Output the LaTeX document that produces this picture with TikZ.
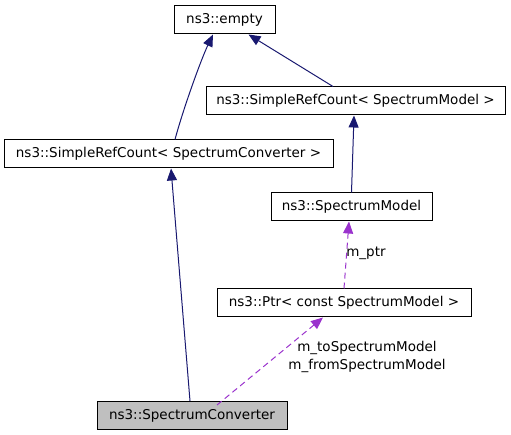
\documentclass[tikz,border=0pt]{standalone}
\usepackage{fontspec}
\setmainfont{DejaVu Sans}
\usetikzlibrary{arrows.meta}
\definecolor{edgeblue}{HTML}{191970}
\definecolor{edgepurple}{HTML}{9A32CD}
\definecolor{boxgray}{HTML}{BFBFBF}
\tikzset{
  cls/.style={draw=black, line width=1pt, minimum height=28pt, inner sep=0pt, font=\fontsize{13.5}{16}\selectfont},
  inherit/.style={draw=edgeblue, line width=1pt, -{Triangle[length=12pt,width=10pt]}},
  usage/.style={draw=edgepurple, line width=1pt, dash pattern=on 6pt off 4pt, -{Triangle[length=12pt,width=10pt]}},
  lbl/.style={font=\fontsize{13.5}{16}\selectfont, inner sep=0pt}
}
\begin{document}
\begin{tikzpicture}[x=1pt,y=-1pt]
\useasboundingbox (0,0) rectangle (511,435);
\node[cls, minimum width=101pt] (empty) at (224.5,20) {ns3::empty};
\node[cls, minimum width=299pt] (srcsm) at (355.5,101) {ns3::SimpleRefCount< SpectrumModel >};
\node[cls, minimum width=329pt] (srcsc) at (168.5,154) {ns3::SimpleRefCount< SpectrumConverter >};
\node[cls, minimum width=161pt] (sm) at (351.5,207) {ns3::SpectrumModel};
\node[cls, minimum width=254pt] (ptr) at (344,303) {ns3::Ptr< const SpectrumModel >};
\node[cls, minimum width=190pt, fill=boxgray] (sc) at (192,415.5) {ns3::SpectrumConverter};

\draw[inherit] ([xshift=6.5pt]srcsc.north) .. controls +(8,-30) and +(-12,25) .. ([xshift=-11.5pt]empty.south);
\draw[inherit] ([xshift=-22.5pt]srcsm.north) -- ([xshift=24pt]empty.south);
\draw[inherit] (sm.north) -- ([xshift=-1.5pt]srcsm.south);
\draw[inherit] ([xshift=-2pt]sc.north) -- ([xshift=2.5pt]srcsc.south);
\draw[usage] (ptr.north) -- ([xshift=-2.5pt]sm.south);
\draw[usage] ([xshift=25pt,yshift=-4pt]sc.north) -- ([xshift=-21pt]ptr.south);

\node[lbl] (lptr) at (366,253) {m\_ptr};
\node[lbl] (lto) at (367,348) {m\_toSpectrumModel};
\node[lbl] (lfrom) at (367,366) {m\_fromSpectrumModel};
\end{tikzpicture}
\end{document}
